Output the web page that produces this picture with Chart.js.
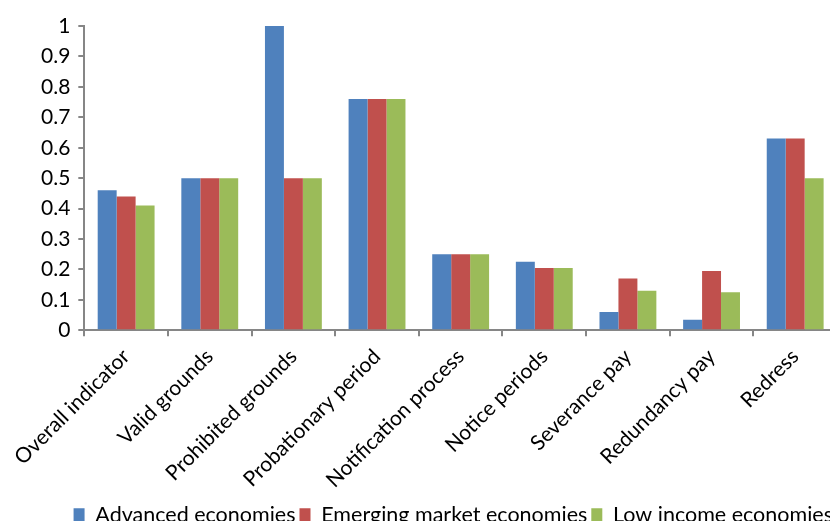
<!DOCTYPE html>
<html lang="en">
<head>
  <meta charset="UTF-8">
  <title>Dismissal regulation indicators</title>
  <script src="https://cdn.jsdelivr.net/npm/chart.js"></script>
  <style>
    html, body { margin: 0; padding: 0; overflow: hidden; background: #fff; }
    #wrap { width: 830px; height: 521px; overflow: hidden; position: relative; }
    canvas { position: absolute; left: 0; top: 0; }
  </style>
</head>
<body>
  <div id="wrap">
    <canvas id="chart" width="912" height="536"></canvas>
  </div>

  <script>
    const categories = [
      "Overall indicator", "Valid grounds", "Prohibited grounds",
      "Probationary period", "Notification process", "Notice periods",
      "Severance pay", "Redundancy pay", "Redress"
    ];
    const advanced = [0.46, 0.50, 1.00, 0.76, 0.25, 0.225, 0.06, 0.035, 0.63];
    const emerging = [0.44, 0.50, 0.50, 0.76, 0.25, 0.205, 0.17, 0.195, 0.63];
    const lowIncome = [0.41, 0.50, 0.50, 0.76, 0.25, 0.205, 0.13, 0.125, 0.50];

    const FONT = "Lato, 'Noto Sans', sans-serif";
    const AXIS = '#868686';

    const ctx = document.getElementById("chart").getContext("2d");
    new Chart(ctx, {
      type: 'bar',
      data: {
        labels: categories,
        datasets: [
          { label: 'Advanced economies', data: advanced, backgroundColor: '#4F81BD' },
          { label: 'Emerging market economies', data: emerging, backgroundColor: '#C0504D' },
          { label: 'Low income economies', data: lowIncome, backgroundColor: '#9BBB59' }
        ]
      },
      options: {
        responsive: false,
        animation: false,
        devicePixelRatio: 1,
        categoryPercentage: 0.68,
        barPercentage: 1,
        layout: { padding: { left: 33, right: 75, top: 26, bottom: 0 } },
        plugins: {
          tooltip: { enabled: false },
          legend: {
            position: 'bottom',
            align: 'end',
            labels: {
              color: '#000',
              font: { family: FONT, size: 21.5 },
              boxWidth: 11,
              boxHeight: 14,
              padding: 4
            }
          }
        },
        scales: {
          x: {
            grid: { drawOnChartArea: false, offset: true, tickLength: 6, color: AXIS, lineWidth: 2 },
            border: { color: AXIS, width: 2 },
            ticks: {
              color: '#000',
              font: { family: FONT, size: 21, lineHeight: 1.05 },
              minRotation: 45,
              maxRotation: 45,
              padding: 9
            }
          },
          y: {
            min: 0,
            max: 1,
            grid: { drawOnChartArea: false, tickLength: 6, color: AXIS, lineWidth: 2 },
            border: { color: AXIS, width: 2 },
            ticks: {
              stepSize: 0.1,
              color: '#000',
              font: { family: FONT, size: 21 },
              padding: 8,
              callback: v => String(+v.toFixed(1))
            }
          }
        }
      }
    });
  </script>
</body>
</html>
